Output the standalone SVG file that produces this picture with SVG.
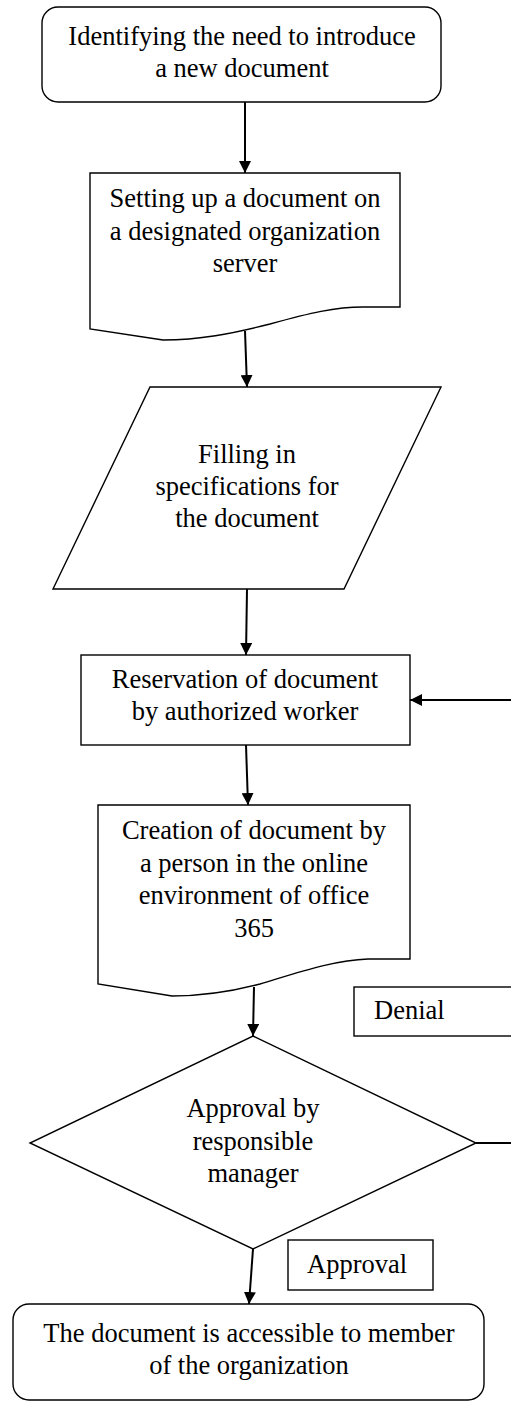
<svg xmlns="http://www.w3.org/2000/svg" width="511" height="1405" viewBox="0 0 511 1405">
<style>
.shape{fill:#fff;stroke:#000;stroke-width:1.4}
.conn{fill:none;stroke:#000;stroke-width:2}
text{font-family:"Liberation Serif","Times New Roman",serif;font-size:26.5px;fill:#000}
.c{text-anchor:middle}
</style>
<defs>
<marker id="arr" markerUnits="userSpaceOnUse" markerWidth="12" markerHeight="12" refX="12" refY="6" orient="auto">
<path d="M0,0 L12,6 L0,12 Z" fill="#000"/>
</marker>
</defs>
<rect width="511" height="1405" fill="#fff"/>
<g id="connectors">
<line class="conn" x1="245" y1="102" x2="245" y2="173" marker-end="url(#arr)"/>
<line class="conn" x1="245" y1="331" x2="247" y2="387" marker-end="url(#arr)"/>
<line class="conn" x1="247" y1="589" x2="246" y2="655" marker-end="url(#arr)"/>
<line class="conn" x1="246" y1="745" x2="248" y2="805" marker-end="url(#arr)"/>
<line class="conn" x1="254" y1="987" x2="253" y2="1036" marker-end="url(#arr)"/>
<line class="conn" x1="253" y1="1249" x2="249" y2="1304" marker-end="url(#arr)"/>
<path class="conn" d="M476,1143 H525 V700 H410" marker-end="url(#arr)"/>
</g>
<g id="n1">
<rect class="shape" x="42" y="7" width="399" height="95" rx="16"/>
<text class="c" x="242" y="45">Identifying the need to introduce</text>
<text class="c" x="242" y="77">a new document</text>
</g>
<g id="n2">
<path class="shape" d="M90,173 H400 V307 H363 C335,307 310,313 270,324 C230,334 200,340 163,340 L90,329 Z"/>
<text class="c" x="245" y="207">Setting up a document on</text>
<text class="c" x="245" y="240">a designated organization</text>
<text class="c" x="245" y="272">server</text>
</g>
<g id="n3">
<path class="shape" d="M150,387 H441 L344,589 H53 Z"/>
<text class="c" x="247" y="463">Filling in</text>
<text class="c" x="247" y="495">specifications for</text>
<text class="c" x="247" y="527">the document</text>
</g>
<g id="n4">
<rect class="shape" x="81" y="655" width="329" height="90"/>
<text class="c" x="245" y="688">Reservation of document</text>
<text class="c" x="245" y="720">by authorized worker</text>
</g>
<g id="n5">
<path class="shape" d="M98,805 H410 V959 H368 C335,960 300,972 260,984 C230,992 205,996 172,996 L98,984 Z"/>
<text class="c" x="254" y="839">Creation of document by</text>
<text class="c" x="254" y="872">a person in the online</text>
<text class="c" x="254" y="904">environment of office</text>
<text class="c" x="254" y="937">365</text>
</g>
<g id="denial">
<rect class="shape" x="354" y="987" width="170" height="49"/>
<text x="374" y="1019">Denial</text>
</g>
<g id="n6">
<path class="shape" d="M253,1036 L476,1143 L253,1249 L30,1143 Z"/>
<text class="c" x="253" y="1117">Approval by</text>
<text class="c" x="253" y="1150">responsible</text>
<text class="c" x="253" y="1182">manager</text>
</g>
<g id="approval">
<rect class="shape" x="288" y="1240" width="145" height="50"/>
<text x="307" y="1273">Approval</text>
</g>
<g id="n7">
<rect class="shape" x="13" y="1304" width="471" height="96" rx="16"/>
<text class="c" x="249" y="1342">The document is accessible to member</text>
<text class="c" x="249" y="1374">of the organization</text>
</g>
</svg>
